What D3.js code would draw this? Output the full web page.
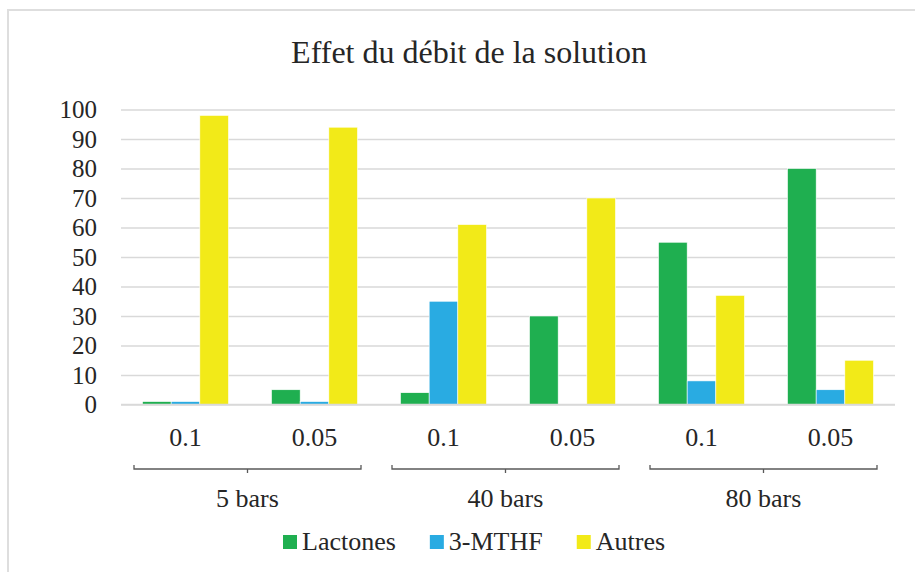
<!DOCTYPE html>
<html>
<head>
<meta charset="utf-8">
<script src="https://cdn.jsdelivr.net/npm/d3@7"></script>
<style>
  html, body { margin: 0; padding: 0; background: #fff; }
  svg { display: block; }
</style>
</head>
<body>
<svg id="chart" width="915" height="572"></svg>
<script>
// Pressure groups and flow-rate conditions shown on the x axis
const groups = ["5 bars", "40 bars", "80 bars"];
const rates = ["0.1", "0.05"];
const categories = ["5 bars|0.1", "5 bars|0.05", "40 bars|0.1", "40 bars|0.05", "80 bars|0.1", "80 bars|0.05"];

// Series values (%) per category
const seriesNames = ["Lactones", "3-MTHF", "Autres"];
const lactones = [1, 5, 4, 30, 55, 80];
const mthf = [1, 1, 35, 0, 8, 5];
const autres = [98, 94, 61, 70, 37, 15];
const colors = ["#1faf50", "#29abe2", "#f2ea18"];

const yTicks = [0, 10, 20, 30, 40, 50, 60, 70, 80, 90, 100];
const title = "Effet du débit de la solution";

const FONT = "'Liberation Serif', 'Times New Roman', serif";
const TEXT = "#262626";

const svg = d3.select("#chart");
const W = 915, H = 572;
const plot = { left: 121, right: 895, top: 109.5, bottom: 404.5 };

// Outer chart frame
svg.append("rect")
  .attr("x", 8).attr("y", 10)
  .attr("width", W).attr("height", H)
  .attr("fill", "#fff").attr("stroke", "#dedede").attr("stroke-width", 2);

// Title
svg.append("text")
  .attr("x", 469).attr("y", 63)
  .attr("text-anchor", "middle")
  .style("font-family", FONT).style("font-size", "32px")
  .attr("fill", TEXT)
  .text(title);

const x = d3.scaleBand().domain(categories).range([plot.left, plot.right]).paddingInner(0).paddingOuter(0);
const inner = d3.scaleBand().domain(seriesNames).range([0, x.bandwidth()]).paddingInner(0).paddingOuter(0.75);
const y = d3.scaleLinear().domain([0, 100]).range([plot.bottom, plot.top]);

// Gridlines and y tick labels
const yAxis = d3.axisLeft(y).tickValues(yTicks).tickSize(-(plot.right - plot.left)).tickPadding(24);
const gy = svg.append("g").attr("transform", `translate(${plot.left},0)`).call(yAxis);
gy.select(".domain").remove();
gy.selectAll(".tick line").attr("stroke", "#d9d9d9").attr("stroke-width", 1.5);
gy.selectAll(".tick text")
  .style("font-family", FONT).style("font-size", "25px")
  .attr("fill", TEXT);

// Bars
const valuesBySeries = [lactones, mthf, autres];
seriesNames.forEach((name, si) => {
  svg.append("g").selectAll("rect")
    .data(categories.map((c, i) => ({ c, v: valuesBySeries[si][i] })))
    .join("rect")
    .attr("x", d => x(d.c) + inner(name))
    .attr("y", d => y(d.v))
    .attr("width", inner.bandwidth())
    .attr("height", d => y(0) - y(d.v))
    .attr("fill", colors[si])
    .attr("stroke", "#fff").attr("stroke-width", 0.6);
});

// Baseline
svg.append("line")
  .attr("x1", plot.left).attr("x2", plot.right)
  .attr("y1", y(0)).attr("y2", y(0))
  .attr("stroke", "#d9d9d9").attr("stroke-width", 1.5);

// Flow-rate labels under each category
svg.append("g").selectAll("text")
  .data(categories)
  .join("text")
  .attr("x", d => x(d) + x.bandwidth() / 2)
  .attr("y", 446)
  .attr("text-anchor", "middle")
  .style("font-family", FONT).style("font-size", "26px")
  .attr("fill", TEXT)
  .text(d => d.split("|")[1]);

// Group brackets and group labels
groups.forEach((g, gi) => {
  const c0 = x(categories[gi * rates.length]);
  const c1 = x(categories[gi * rates.length + rates.length - 1]) + x.bandwidth();
  const a = c0 + 13, b = c1 - 18, yb = 469;
  const mid = (a + b) / 2;
  svg.append("path")
    .attr("d", `M${a},${yb - 4}V${yb}H${b}V${yb - 4}M${mid},${yb}V${yb + 4}`)
    .attr("fill", "none").attr("stroke", "#595959").attr("stroke-width", 1.3);
  svg.append("text")
    .attr("x", mid).attr("y", 507)
    .attr("text-anchor", "middle")
    .style("font-family", FONT).style("font-size", "26px")
    .attr("fill", TEXT)
    .text(g);
});

// Legend: swatch + label, laid out left to right from measured label widths
const lg = svg.append("g");
let lx = 283;
seriesNames.forEach((name, i) => {
  lg.append("rect")
    .attr("x", lx).attr("y", 535)
    .attr("width", 14).attr("height", 14)
    .attr("fill", colors[i]);
  const t = lg.append("text")
    .attr("x", lx + 19).attr("y", 550)
    .style("font-family", FONT).style("font-size", "26px")
    .attr("fill", TEXT)
    .text(name);
  lx += 19 + t.node().getComputedTextLength() + 34;
});
</script>
</body>
</html>
